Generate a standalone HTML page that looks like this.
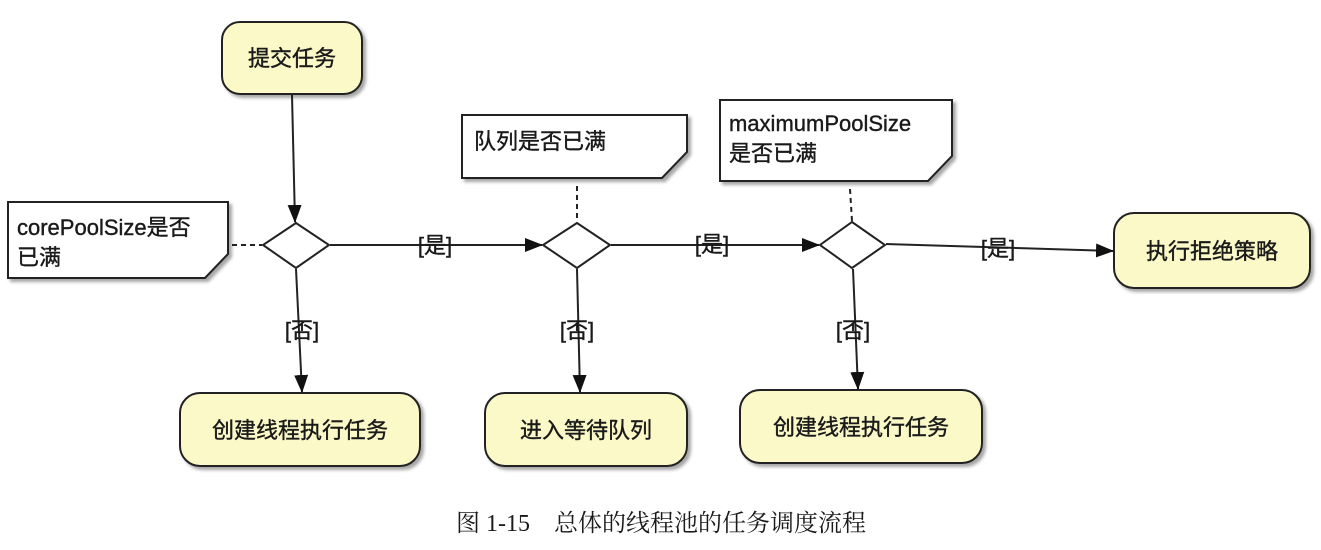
<!DOCTYPE html>
<html><head><meta charset="utf-8"><style>
body{margin:0;background:#fff;width:1321px;height:545px;overflow:hidden}
svg text{font-family:"Liberation Sans","Noto Sans CJK SC",sans-serif;fill:#1a1a1a}
</style></head><body>
<svg width="1321" height="545" viewBox="0 0 1321 545" xmlns="http://www.w3.org/2000/svg">
<defs>
<marker id="a" markerWidth="18" markerHeight="14" refX="17" refY="7" orient="auto" markerUnits="userSpaceOnUse"><path d="M0,0 L18,7 L0,14 Z" fill="#111"/></marker>
<filter id="s" x="-10%" y="-10%" width="130%" height="130%"><feDropShadow dx="3" dy="3" stdDeviation="1.5" flood-color="#000" flood-opacity="0.35"/></filter>
</defs>
<g stroke="#222" stroke-width="2" fill="#fbf9c8" filter="url(#s)">
<rect x="222" y="22" width="140" height="72" rx="18"/>
<rect x="1114" y="213" width="196" height="75" rx="20"/>
<rect x="180" y="393" width="240" height="73" rx="20"/>
<rect x="485" y="393" width="202" height="73" rx="20"/>
<rect x="740" y="390" width="242" height="73" rx="20"/>
</g>
<g stroke="#222" stroke-width="2" fill="#fff" filter="url(#s)">
<path d="M8,202 H228 V254 L205,278 H8 Z"/>
<path d="M462,115 H687 V152 L662,178 H462 Z"/>
<path d="M720,100 H952 V156 L928,181 H720 Z"/>
</g>
<g stroke="#222" stroke-width="2" fill="#fff">
<path d="M296,223 L329,245 L296,268 L263,245 Z"/>
<path d="M577,223 L610,245 L577,268 L543,245 Z"/>
<path d="M852,222 L885,245 L852,268 L820,245 Z"/>
</g>
<g stroke="#222" stroke-width="2" stroke-dasharray="5,4" fill="none">
<line x1="232" y1="245" x2="262" y2="245"/>
<line x1="577" y1="186" x2="577" y2="222"/>
<line x1="850" y1="189" x2="852" y2="221"/>
</g>
<g stroke="#222" stroke-width="2" fill="none" marker-end="url(#a)">
<line x1="292" y1="95" x2="295" y2="222"/>
<line x1="330" y1="245" x2="542" y2="245"/>
<line x1="611" y1="245" x2="819" y2="245"/>
<line x1="886" y1="244" x2="1113" y2="251"/>
<line x1="296" y1="269" x2="302" y2="392"/>
<line x1="577" y1="269" x2="580" y2="392"/>
<line x1="853" y1="269" x2="858" y2="389"/>
</g>
<g font-size="22" stroke="#1a1a1a" stroke-width="0.4">
<text x="292" y="66" text-anchor="middle">提交任务</text>
<text x="1212" y="259" text-anchor="middle">执行拒绝策略</text>
<text x="300" y="438" text-anchor="middle">创建线程执行任务</text>
<text x="586" y="438" text-anchor="middle">进入等待队列</text>
<text x="861" y="435" text-anchor="middle">创建线程执行任务</text>
<text x="17" y="235">corePoolSize是否</text>
<text x="17" y="265">已满</text>
<text x="474" y="149">队列是否已满</text>
<text x="729" y="131">maximumPoolSize</text>
<text x="729" y="161">是否已满</text>
<text x="435" y="253" text-anchor="middle">[是]</text>
<text x="712" y="252" text-anchor="middle">[是]</text>
<text x="998" y="256" text-anchor="middle">[是]</text>
<text x="302" y="338" text-anchor="middle">[否]</text>
<text x="577" y="338" text-anchor="middle">[否]</text>
<text x="853" y="338" text-anchor="middle">[否]</text>
</g>
<text x="661" y="531" text-anchor="middle" font-size="24" style="font-family:'Liberation Serif','Noto Serif CJK SC',serif">图 1-15　总体的线程池的任务调度流程</text>
</svg>
</body></html>
